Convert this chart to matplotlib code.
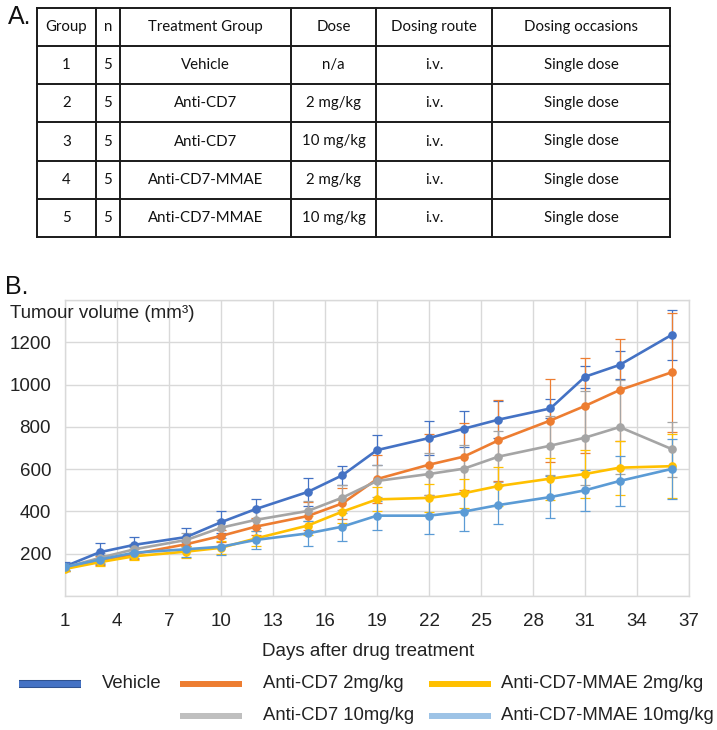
import matplotlib
matplotlib.use("Agg")
import matplotlib.pyplot as plt
import matplotlib.patheffects as pe
from matplotlib.lines import Line2D

plt.rcParams["font.family"] = ["Liberation Sans", "DejaVu Sans"]

# ---- panel A: study design table ----
headers = ["Group", "n", "Treatment Group", "Dose", "Dosing route", "Dosing occasions"]
groups = ["1", "2", "3", "4", "5"]
n_mice = ["5", "5", "5", "5", "5"]
treatments = ["Vehicle", "Anti-CD7", "Anti-CD7", "Anti-CD7-MMAE", "Anti-CD7-MMAE"]
doses = ["n/a", "2 mg/kg", "10 mg/kg", "2 mg/kg", "10 mg/kg"]
routes = ["i.v.", "i.v.", "i.v.", "i.v.", "i.v."]
occasions = ["Single dose", "Single dose", "Single dose", "Single dose", "Single dose"]

# ---- panel B: tumour growth (mean +/- error) ----
days = [1, 3, 5, 8, 10, 12, 15, 17, 19, 22, 24, 26, 29, 31, 33, 36]
vehicle = [140, 207, 242, 279, 349, 411, 492, 571, 690, 747, 791, 834, 887, 1037, 1093, 1235]
cd7_2 = [132, 168, 199, 245, 284, 328, 378, 438, 553, 621, 659, 736, 830, 899, 974, 1058]
cd7_10 = [135, 180, 221, 265, 323, 360, 402, 465, 544, 577, 602, 659, 711, 749, 799, 695]
mmae_2 = [128, 160, 188, 210, 228, 272, 333, 399, 457, 464, 486, 520, 555, 577, 607, 614]
mmae_10 = [137, 172, 205, 221, 233, 265, 296, 328, 380, 380, 399, 430, 468, 500, 544, 601]

vehicle_err = [20, 42, 37, 42, 53, 47, 67, 46, 72, 79, 86, 88, 46, 52, 65, 120]
cd7_2_err = [15, 20, 25, 30, 30, 40, 65, 74, 115, 145, 160, 190, 198, 225, 243, 280]
cd7_10_err = [15, 25, 25, 35, 35, 40, 47, 60, 75, 100, 110, 120, 140, 222, 222, 130]
mmae_2_err = [12, 18, 20, 28, 30, 35, 45, 55, 57, 66, 69, 92, 100, 112, 128, 150]
mmae_10_err = [15, 20, 25, 35, 39, 42, 60, 66, 68, 87, 93, 91, 98, 98, 116, 140]

series = [
    ("Vehicle", vehicle, vehicle_err, "#4472C4"),
    ("Anti-CD7 2mg/kg", cd7_2, cd7_2_err, "#ED7D31"),
    ("Anti-CD7 10mg/kg", cd7_10, cd7_10_err, "#A5A5A5"),
    ("Anti-CD7-MMAE 2mg/kg", mmae_2, mmae_2_err, "#FFC000"),
    ("Anti-CD7-MMAE 10mg/kg", mmae_10, mmae_10_err, "#5B9BD5"),
]
legend_colors = ["#4472C4", "#ED7D31", "#BFBFBF", "#FFC000", "#9DC3E6"]

W, H = 717, 730
fig = plt.figure(figsize=(W / 100, H / 100), dpi=100)

# table drawn in pixel coordinates on an invisible overlay axes
tab = fig.add_axes([0, 0, 1, 1])
tab.set_xlim(0, W)
tab.set_ylim(H, 0)
tab.axis("off")
col_x = [37, 96, 120, 291, 376, 492, 670]
row_y = [8, 46, 84, 122, 161, 199, 237]
for x in col_x:
    tab.plot([x, x], [row_y[0], row_y[-1]], color="#1a1a1a", lw=1.4, solid_capstyle="projecting")
for y in row_y:
    tab.plot([col_x[0], col_x[-1]], [y, y], color="#1a1a1a", lw=1.4, solid_capstyle="projecting")

rows = [headers] + [list(r) for r in zip(groups, n_mice, treatments, doses, routes, occasions)]
for i, row in enumerate(rows):
    yc = (row_y[i] + row_y[i + 1]) / 2
    for j, cell in enumerate(row):
        xc = (col_x[j] + col_x[j + 1]) / 2
        tab.text(xc, yc, cell, ha="center", va="center", fontsize=10.8,
                 family=["Lato", "DejaVu Sans"], color="#111111")

fig.text(8 / W, 1 - 17 / H, "A.", fontsize=18, va="center", ha="left", color="#111111")
fig.text(5 / W, 1 - 287 / H, "B.", fontsize=18, va="center", ha="left", color="#111111")

# chart
ax = fig.add_axes([65 / W, 1 - 596 / H, 624 / W, 296 / H])
for label, vals, err, col in series:
    ax.errorbar(days, vals, yerr=err, color=col, lw=1.9, marker="o", ms=5.2,
                elinewidth=0.9, capsize=3.3, capthick=0.9, label=label, zorder=3)

ax.set_xlim(1, 37)
ax.set_ylim(0, 1400)
ax.set_xticks(range(1, 38, 3))
ax.set_yticks(range(0, 1401, 200))
ax.set_yticklabels(["" if v in (0, 1400) else str(v) for v in range(0, 1401, 200)])
ax.grid(True, color="#d9d9d9", lw=1.0)
ax.set_axisbelow(True)
for s in ax.spines.values():
    s.set_color("#d9d9d9")
    s.set_linewidth(1.0)
ax.tick_params(length=0, labelsize=13.5, labelcolor="#222222")
ax.tick_params(axis="x", pad=12.5)
ax.tick_params(axis="y", pad=10)

fig.text(10 / W, 1 - 314 / H, "Tumour volume (mm\u00b3)", fontsize=13.5,
         va="center", ha="left", color="#222222")
fig.text(368 / W, 1 - 651 / H, "Days after drug treatment", fontsize=13.5,
         va="center", ha="center", color="#222222")

# legend laid out like the original: Vehicle alone in the first column
legend_slots = [(19, 81, 102, 684), (180, 242, 263, 684), (180, 242, 263, 716),
                (429, 491, 501, 684), (429, 491, 501, 716)]
for (label, _, _, _), col, (x0, x1, xt, yr) in zip(series, legend_colors, legend_slots):
    yf = 1 - yr / H
    effects = None
    if label == "Vehicle":
        effects = [pe.Stroke(linewidth=5.8, foreground="#2F528F"), pe.Normal()]
    fig.add_artist(Line2D([x0 / W, x1 / W], [yf, yf], transform=fig.transFigure,
                          color=col, lw=4.3, solid_capstyle="butt",
                          path_effects=effects))
    fig.text(xt / W, yf, label, fontsize=13.3, va="center", ha="left", color="#222222")

fig.savefig("out.png", dpi=100)
